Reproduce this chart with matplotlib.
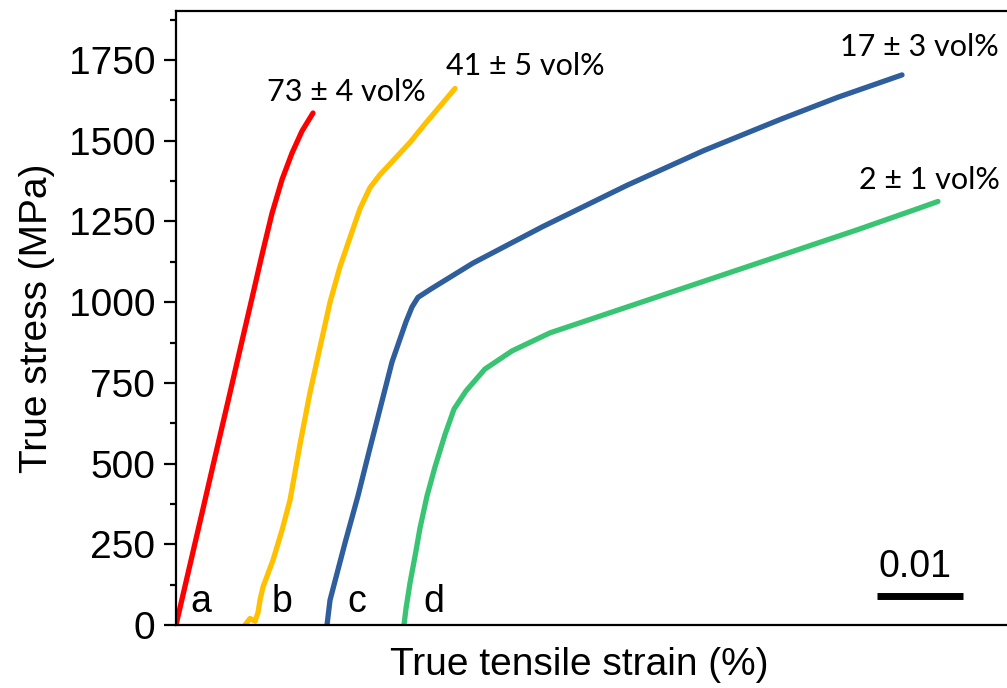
import numpy as np
import matplotlib.pyplot as plt
from matplotlib.ticker import MultipleLocator

# true strain (fraction) and true stress (MPa)
strain_a = [0, 0.00163, 0.00314, 0.00453, 0.00605, 0.00744, 0.00884,
            0.01000, 0.01116, 0.01233, 0.01349, 0.01465, 0.01593]
stress_a = [0, 187, 360, 520, 693, 853, 1013, 1147, 1275, 1380, 1462, 1530, 1586]

strain_b = [0.00802, 0.00860, 0.00920, 0.00955, 0.00977, 0.01012, 0.01128, 0.01233,
            0.01326, 0.01442, 0.01558, 0.01674, 0.01791, 0.01907, 0.02023, 0.02140,
            0.02256, 0.02372, 0.02547, 0.02721, 0.02895, 0.03070, 0.03244]
stress_b = [0, 20, 12, 40, 77, 118, 201, 294, 387, 560, 720, 860, 1000, 1110, 1200,
            1290, 1355, 1395, 1445, 1495, 1552, 1607, 1662]

strain_c = [0.01756, 0.01791, 0.01965, 0.02116, 0.02244, 0.02512, 0.02674, 0.02744,
            0.02814, 0.02965, 0.03453, 0.04256, 0.05244, 0.06140, 0.07035, 0.07698, 0.08442]
stress_c = [0, 77, 254, 400, 536, 815, 939, 985, 1015, 1041, 1121, 1233, 1362, 1470,
            1567, 1635, 1704]

strain_d = [0.02651, 0.02674, 0.02721, 0.02791, 0.02837, 0.02919, 0.03012, 0.03128,
            0.03233, 0.03372, 0.03593, 0.03907, 0.04349, 0.05244, 0.06140, 0.07035,
            0.07930, 0.08628, 0.08860]
stress_d = [0, 50, 130, 230, 300, 400, 490, 590, 669, 725, 793, 849, 905, 985, 1065,
            1145, 1225, 1290, 1312]

fractions = ['73 ± 4 vol%', '41 ± 5 vol%', '17 ± 3 vol%', '2 ± 1 vol%']
letters = ['a', 'b', 'c', 'd']
colors = ['#FF0000', '#FFC000', '#2E5E9B', '#38C472']

fig = plt.figure(figsize=(10.07, 6.88), dpi=100)
ax = fig.add_axes([176/1007, 63/688, 844/1007, 614/688])

curves = [(strain_a, stress_a), (strain_b, stress_b), (strain_c, stress_c), (strain_d, stress_d)]
for (x, y), c in zip(curves, colors):
    ax.plot(x, y, color=c, lw=3.8, solid_capstyle='round', solid_joinstyle='round')

ax.set_xlim(0, 0.09814)
ax.set_ylim(0, 1902)

ax.yaxis.set_major_locator(MultipleLocator(250))
ax.yaxis.set_minor_locator(MultipleLocator(125))
ax.set_xticks([])
ax.tick_params(axis='y', which='major', length=9, width=1.6, pad=6,
               labelsize=28, labelfontfamily='Liberation Sans')
ax.tick_params(axis='y', which='minor', length=4.5, width=1.6)
for s in ['left', 'bottom', 'top']:
    ax.spines[s].set_linewidth(1.6)
ax.spines['right'].set_visible(False)

ax.set_ylabel('True stress (MPa)', fontsize=28, family='Liberation Sans', labelpad=10)
ax.set_xlabel('True tensile strain (%)', fontsize=28, family='Liberation Sans')
ax.xaxis.set_label_coords(403/844, -0.036)

# volume fraction labels
label_pos = [(0.01977, 1651), (0.04058, 1731), (0.08640, 1790), (0.08756, 1378)]
for (x, y), t in zip(label_pos, fractions):
    ax.text(x, y, t, fontsize=22, family='Lato', ha='center', va='center')

letter_pos = [0.00291, 0.01233, 0.02105, 0.03000]
for x, t in zip(letter_pos, letters):
    ax.text(x, 72, t, fontsize=27, family='Liberation Sans', ha='center', va='center')

# scale bar: 0.01 strain
ax.plot([0.08151, 0.09151], [90, 90], color='black', lw=5, solid_capstyle='butt')
ax.text(0.08593, 180, '0.01', fontsize=27, family='Liberation Sans', ha='center', va='center')

fig.savefig('out.png', dpi=100)
